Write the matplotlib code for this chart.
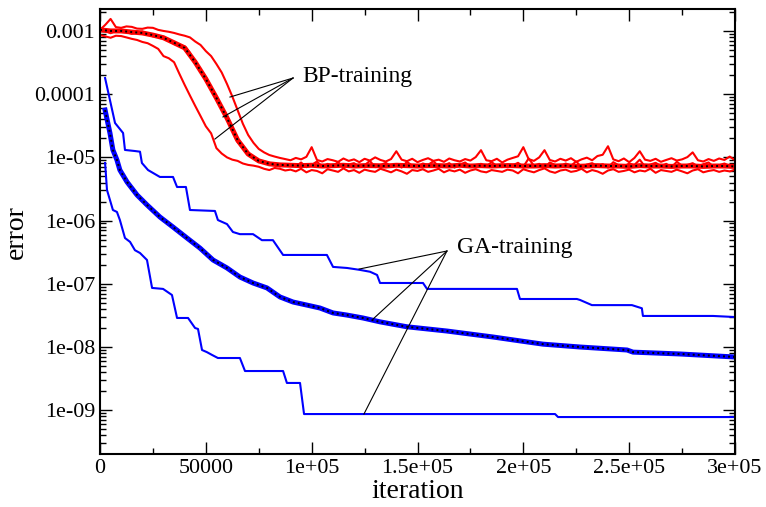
import numpy as np
import matplotlib
matplotlib.use("Agg")
import matplotlib.pyplot as plt
from matplotlib.ticker import FixedLocator, FixedFormatter, LogLocator, NullFormatter, MultipleLocator

plt.rcParams['font.family'] = ['Liberation Serif', 'DejaVu Serif']

# ---- BP-training (red), thin runs sampled every 2500 iterations (values in units of 1e-6)
bp_slow = [1040, 1250, 1550, 1150, 1120, 1180, 1160, 1090, 1080, 1130, 1120, 1040,
           1000, 970, 930, 880, 840, 790, 680, 600, 480, 400, 300, 220, 145, 92, 56, 34,
           22.6, 17, 13.6, 12.0, 10.9, 10.3, 9.8, 9.4,
           9.0, 9.8, 9.3, 10.2, 14.5, 9.1, 8.6, 9.4, 9.0, 8.5, 9.6, 8.8, 9.3, 8.4, 9.5, 8.9,
           10.0, 9.1, 8.6, 9.4, 12.5, 9.2, 8.7, 9.5, 8.4, 9.1, 9.7, 8.8, 9.2, 8.5, 9.6, 9.0,
           8.6, 9.4, 8.9, 10.1, 13.0, 9.0, 8.7, 9.5, 8.3, 9.2, 9.8, 10.4, 14.5, 9.4, 8.8, 10.0,
           13.0, 9.1, 8.6, 9.5, 8.9, 9.7, 8.5, 9.3, 9.9, 9.0, 10.5, 11.0, 15.0, 9.3, 8.7, 9.6,
           8.4, 9.8, 12.5, 9.2, 8.8, 9.5, 8.5, 9.1, 9.7, 8.9, 9.3, 10.1, 12.0, 9.0, 8.6, 9.4,
           8.8, 9.6, 9.1, 10.3, 9.0]

bp_mid = [1100, 1000, 920, 1000, 1050, 960, 900, 940, 980, 900, 820, 840, 810, 720, 620,
          600, 570, 450, 300, 240, 185, 125, 82, 62, 45, 30, 17.5, 14, 12, 9.8, 8.4, 8.6,
          8.2, 7.6, 7.2, 7.8,
          7.8, 7.2, 8.3, 7.0, 7.6, 8.6, 7.1, 7.9, 7.3, 8.4,
          6.9, 7.7, 8.1, 7.2, 7.5, 8.8, 7.0, 7.6, 8.2, 7.3,
          7.8, 6.9, 8.5, 7.4, 7.1, 8.0, 7.6, 8.7, 7.2, 7.5,
          8.1, 6.9, 7.7, 8.3, 7.1, 7.6, 7.9, 7.2, 8.4, 7.3,
          7.0, 7.8, 7.5, 8.2, 7.1, 9.6, 7.4, 7.9, 6.9, 8.3,
          7.6, 7.2, 8.0, 7.4, 8.6, 7.0, 7.7, 8.1, 7.3, 7.8,
          6.9, 8.4, 7.5, 7.2, 8.0, 7.6, 9.2, 7.1, 7.7, 8.2,
          7.3, 7.9, 7.0, 8.5, 7.4, 7.6, 8.1, 7.2, 7.8, 8.3,
          7.1, 7.5, 8.0, 7.3, 7.6]

bp_fast = [860, 820, 780, 840, 830, 790, 750, 720, 670, 640, 580, 520, 400, 370, 320,
           210, 140, 95, 65, 45, 31, 24, 14, 11.5, 10.0, 9.2, 8.8, 8.0, 7.6, 7.4, 7.1,
           6.6, 6.3, 6.8, 6.6, 6.2,
           6.4, 6.0, 6.6, 5.8, 6.3, 6.1, 5.6, 6.5, 6.2, 5.9,
           6.7, 6.0, 6.3, 5.7, 6.4, 6.1, 5.9, 6.6, 6.2, 5.8,
           6.4, 6.0, 5.5, 6.3, 6.1, 6.5, 5.9, 6.2, 6.6, 5.8,
           6.3, 6.0, 6.4, 5.7, 6.2, 6.5, 6.0, 5.8, 6.3, 6.1,
           5.9, 6.4, 6.2, 5.6, 6.5, 6.1, 5.8, 6.3, 6.7, 6.0,
           5.7, 6.2, 6.4, 5.9, 6.1, 6.6, 5.8, 6.3, 6.0, 5.5,
           6.2, 6.5, 5.9, 6.1, 6.4, 5.8, 6.2, 6.0, 6.6, 5.7,
           6.3, 6.1, 5.9, 6.4, 6.0, 5.6, 6.2, 6.5, 5.8, 6.1,
           6.3, 5.9, 6.2, 6.0, 6.4]

# averaged BP run, every 5000 iterations (units of 1e-6)
bp_mean = [1040, 1000, 1000, 960, 930, 860, 780, 650, 540, 320, 174, 87, 42, 18.8, 11.3,
           8.8, 7.9, 7.6,
           7.5, 7.4, 7.5, 7.3, 7.4, 7.5, 7.3, 7.4, 7.4, 7.3, 7.5, 7.4, 7.3, 7.4, 7.4, 7.3,
           7.5, 7.3, 7.4, 7.3, 7.4, 7.4, 7.3, 7.3, 7.4, 7.3, 7.4, 7.2, 7.3, 7.4, 7.3, 7.3,
           7.2, 7.4, 7.3, 7.3, 7.2, 7.3, 7.3, 7.2, 7.3, 7.3, 7.2]

# ---- GA-training (blue)
ga_up_iter = [2400, 7100, 10900, 11800, 16500, 18900, 19800, 22700, 28300, 34500, 36400,
              40600, 42500, 54300, 55700, 60000, 62800, 66100, 72300, 76500, 81700, 86500,
              107200, 110100, 116700, 122800, 127600, 130900, 132300, 152600, 154500,
              197000, 198400, 225300, 226800, 232400, 251300, 256000, 256500, 289600, 300000]
ga_up = [1.8e-4, 3.5e-5, 2.43e-5, 1.31e-5, 1.26e-5, 1.23e-5, 8.15e-6, 6.3e-6, 4.9e-6, 4.9e-6,
         3.4e-6, 3.4e-6, 1.47e-6, 1.42e-6, 1.02e-6, 8.8e-7, 6.6e-7, 6.1e-7, 6.1e-7, 4.9e-7,
         4.9e-7, 2.86e-7, 2.86e-7, 1.85e-7, 1.78e-7, 1.66e-7, 1.55e-7, 1.38e-7, 1.03e-7,
         1.03e-7, 8.3e-8, 8.3e-8, 5.75e-8, 5.75e-8, 5.55e-8, 4.6e-8, 4.6e-8, 4.1e-8, 3.1e-8,
         3.1e-8, 2.98e-8]

ga_mean_iter = [2400, 4700, 6100, 8000, 9400, 12800, 17500, 22200, 28300, 34500, 41100,
                47200, 53400, 60000, 66100, 72300, 78900, 85000, 91200, 97800, 103900,
                110100, 116700, 124200, 132300, 145000, 163900, 185700, 198400, 209300,
                226800, 249000, 251800, 274000, 300000]
ga_mean = [5.6e-5, 2.43e-5, 1.31e-5, 9.1e-6, 6.3e-6, 4.07e-6, 2.54e-6, 1.77e-6, 1.14e-6,
           7.9e-7, 5.3e-7, 3.68e-7, 2.38e-7, 1.78e-7, 1.28e-7, 1.03e-7, 8.6e-8, 6.2e-8,
           5.15e-8, 4.6e-8, 4.14e-8, 3.46e-8, 3.2e-8, 2.88e-8, 2.5e-8, 2.09e-8, 1.79e-8,
           1.44e-8, 1.25e-8, 1.11e-8, 1.0e-8, 8.97e-9, 8.3e-9, 7.76e-9, 6.95e-9]

ga_low_iter = [2400, 3300, 4700, 6100, 8000, 9400, 11800, 14200, 16500, 18900, 22200, 24600,
               29800, 34000, 36400, 41600, 44900, 46300, 48200, 50500, 52900, 55700, 66100,
               68500, 86500, 88300, 94500, 96400, 215000, 216400, 300000]
ga_low = [8.15e-6, 3.05e-6, 2.12e-6, 1.47e-6, 1.37e-6, 1.02e-6, 5.3e-7, 4.6e-7, 3.4e-7,
          3.07e-7, 2.38e-7, 8.6e-8, 8.3e-8, 6.65e-8, 2.88e-8, 2.88e-8, 2.0e-8, 1.93e-8,
          8.97e-9, 8.3e-9, 7.5e-9, 6.7e-9, 6.7e-9, 4.17e-9, 4.17e-9, 2.7e-9, 2.7e-9,
          8.7e-10, 8.7e-10, 7.8e-10, 7.8e-10]

# tick labels
x_ticks = [0, 50000, 100000, 150000, 200000, 250000, 300000]
x_labels = ['0', '50000', '1e+05', '1.5e+05', '2e+05', '2.5e+05', '3e+05']
y_ticks = [1e-3, 1e-4, 1e-5, 1e-6, 1e-7, 1e-8, 1e-9]
y_labels = ['0.001', '0.0001', '1e-05', '1e-06', '1e-07', '1e-08', '1e-09']

# annotation callouts: text position, line origin, line targets
bp_text = (95400, 1.87e-4)
bp_origin = (91200, 1.8e-4)
bp_targets = [(61400, 9.0e-5), (58100, 4.36e-5), (54300, 1.95e-5)]
ga_text = (168600, 3.8e-7)
ga_origin = (163900, 3.3e-7)
ga_targets = [(122400, 1.71e-7), (129000, 2.77e-8), (124700, 8.7e-10)]

fig = plt.figure(figsize=(7.66, 5.07), dpi=100)
ax = fig.add_axes([100 / 766, 53 / 507, 635 / 766, 444.7 / 507])

red = (1, 0, 0)
blue = (0, 0, 1)

for run in (bp_slow, bp_fast, bp_mid):
    ax.plot(np.arange(len(run)) * 2500, np.array(run) * 1e-6, color=red, lw=1.5)
mean_x = np.arange(len(bp_mean)) * 5000
ax.plot(mean_x, np.array(bp_mean) * 1e-6, color=red, lw=3.6)
ax.plot(mean_x, np.array(bp_mean) * 1e-6, color='black', lw=1.4, ls=(0, (1, 1.6)))

ax.plot(ga_up_iter, ga_up, color=blue, lw=1.5)
ax.plot(ga_low_iter, ga_low, color=blue, lw=1.5)
ax.plot(ga_mean_iter, ga_mean, color=blue, lw=3.6)
ax.plot(ga_mean_iter, ga_mean, color='black', lw=1.4, ls=(0, (1, 1.6)))

for tx, ty in bp_targets:
    ax.plot([bp_origin[0], tx], [bp_origin[1], ty], color='black', lw=0.8)
for tx, ty in ga_targets:
    ax.plot([ga_origin[0], tx], [ga_origin[1], ty], color='black', lw=0.8)
ax.text(bp_text[0], bp_text[1], 'BP-training', fontsize=17, va='center', ha='left')
ax.text(ga_text[0], ga_text[1], 'GA-training', fontsize=17, va='center', ha='left')

ax.set_yscale('log')
ax.set_xlim(0, 300000)
ax.set_ylim(2.03e-10, 2.2e-3)

ax.xaxis.set_major_locator(FixedLocator(x_ticks))
ax.xaxis.set_major_formatter(FixedFormatter(x_labels))
ax.xaxis.set_minor_locator(MultipleLocator(25000))
ax.yaxis.set_major_locator(FixedLocator(y_ticks))
ax.yaxis.set_major_formatter(FixedFormatter(y_labels))
ax.yaxis.set_minor_locator(LogLocator(base=10, subs=np.arange(2, 10), numticks=30))
ax.yaxis.set_minor_formatter(NullFormatter())

ax.tick_params(which='both', direction='in', top=True, right=True, labelsize=15.8, width=1.0)
ax.tick_params(which='major', length=8.6, pad=3.5)
ax.tick_params(which='minor', length=4.3)
for s in ax.spines.values():
    s.set_linewidth(1.5)

ax.set_xlabel('iteration', fontsize=20, labelpad=1)
ax.set_ylabel('error', fontsize=20, labelpad=4)

fig.savefig('out.png', dpi=100)
